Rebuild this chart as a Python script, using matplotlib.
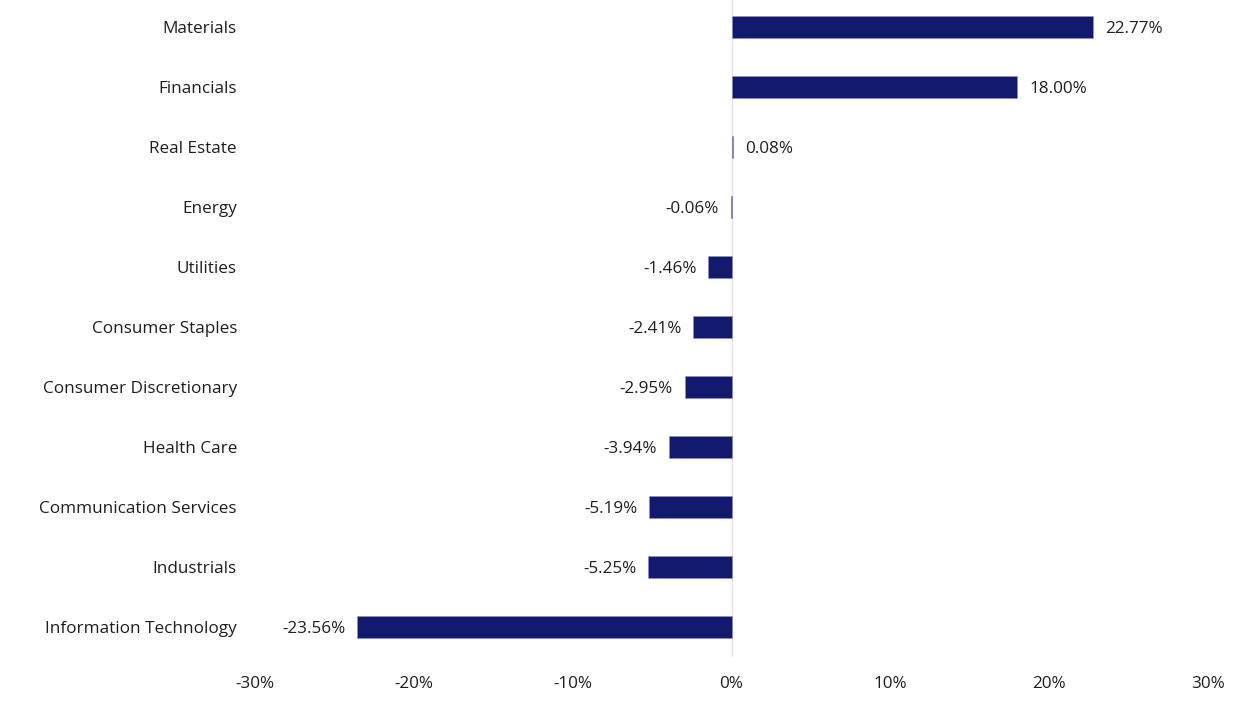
import matplotlib.pyplot as plt

plt.rcParams['font.family'] = ['Open Sans', 'DejaVu Sans']

# sectors listed bottom to top
sectors = ["Information Technology", "Industrials", "Communication Services",
           "Health Care", "Consumer Discretionary", "Consumer Staples",
           "Utilities", "Energy", "Real Estate", "Financials", "Materials"]
values = [-23.56, -5.25, -5.19, -3.94, -2.95, -2.41, -1.46, -0.06, 0.08, 18.00, 22.77]
xticks = [-30, -20, -10, 0, 10, 20, 30]

bar_color = "#131a6e"
txt = "#1e1e1e"
fs = 12.3

fig = plt.figure(figsize=(12.45, 7.13), dpi=100)
ax = fig.add_axes([255 / 1245, 56 / 713, 953 / 1245, 657 / 713])

ypos = range(len(sectors))
ax.barh(ypos, values, height=0.37, color=bar_color, edgecolor="#8a90c0", linewidth=0.4, zorder=3)
ax.axvline(0, color="#e3e3e3", linewidth=1, zorder=1)

for y, v in zip(ypos, values):
    if v >= 0:
        ax.text(v + 0.75, y, f"{v:.2f}%", va="center_baseline", ha="left", fontsize=fs, color=txt)
    else:
        ax.text(v - 0.75, y, f"{v:.2f}%", va="center_baseline", ha="right", fontsize=fs, color=txt)

ax.set_xlim(-30, 30)
ax.set_ylim(-0.5, 10.45)
ax.set_yticks(list(ypos))
ax.set_yticklabels(sectors, fontsize=fs, color=txt)
ax.set_xticks(xticks)
ax.set_xticklabels([f"{t}%" for t in xticks], fontsize=fs, color=txt)
ax.tick_params(axis="y", length=0, pad=13)
ax.tick_params(axis="x", length=0, pad=13.5)
for s in ax.spines.values():
    s.set_visible(False)

fig.savefig("out.png", dpi=100)
